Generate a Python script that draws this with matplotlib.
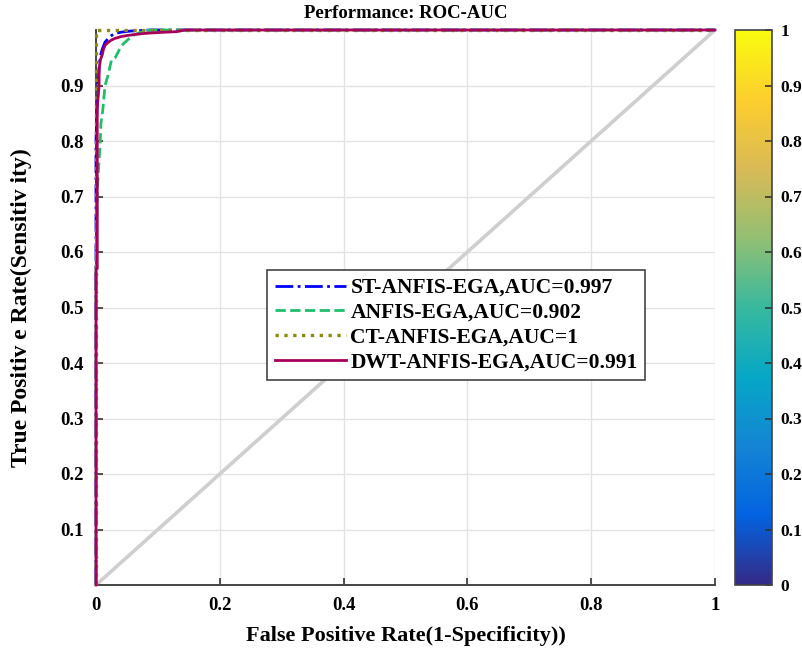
import numpy as np
import matplotlib
matplotlib.use("Agg")
import matplotlib.pyplot as plt
from matplotlib.colors import LinearSegmentedColormap
from matplotlib.colorbar import ColorbarBase
from matplotlib.colors import Normalize

# ---------------- data ----------------
labels = ["ST-ANFIS-EGA,AUC=0.997", "ANFIS-EGA,AUC=0.902",
          "CT-ANFIS-EGA,AUC=1", "DWT-ANFIS-EGA,AUC=0.991"]

st_fpr = [0, 0, 0.003, 0.005, 0.0065, 0.010, 0.0145, 0.020, 0.025, 0.031, 0.040, 0.055, 0.070, 0.090, 1.0]
st_tpr = [0, 0.80, 0.90, 0.93, 0.951, 0.965, 0.978, 0.985, 0.990, 0.994, 0.996, 0.998, 0.999, 1.0, 1.0]

anfis_fpr = [0, 0, 0.002, 0.004, 0.0065, 0.008, 0.011, 0.0145, 0.017, 0.0195, 0.025, 0.031,
             0.038, 0.044, 0.052, 0.060, 0.070, 0.085, 1.0]
anfis_tpr = [0, 0.56, 0.706, 0.748, 0.79, 0.832, 0.856, 0.90, 0.909, 0.919, 0.946, 0.950,
             0.965, 0.975, 0.983, 0.990, 0.995, 1.0, 1.0]

ct_fpr = [0, 0, 1.0]
ct_tpr = [0, 1.0, 1.0]

dwt_fpr = [0, 0, 0.002, 0.002, 0.005, 0.005, 0.007, 0.010, 0.012, 0.015, 0.020, 0.025, 0.031,
           0.040, 0.050, 0.063, 0.080, 0.095, 0.111, 0.130, 0.144, 1.0]
dwt_tpr = [0, 0.57, 0.57, 0.86, 0.90, 0.93, 0.946, 0.955, 0.965, 0.973, 0.978, 0.982, 0.985,
           0.988, 0.990, 0.992, 0.994, 0.995, 0.996, 0.997, 1.0, 1.0]

diag = [0, 1]
x_ticks = [0, 0.2, 0.4, 0.6, 0.8, 1]
y_ticks = [0.1, 0.2, 0.3, 0.4, 0.5, 0.6, 0.7, 0.8, 0.9]
cb_ticks = [0, 0.1, 0.2, 0.3, 0.4, 0.5, 0.6, 0.7, 0.8, 0.9, 1]
parula_colors = ['#352a87', '#0363e1', '#1485d4', '#06a7c6', '#38b99e',
                 '#92bf73', '#d9ba56', '#fcce2e', '#f9fb0e']

# ---------------- style ----------------
plt.rcParams['font.family'] = ['Liberation Serif', 'DejaVu Serif']
plt.rcParams['font.weight'] = 'bold'
FS_TICK = 13.5
FS_LAB = 16
FS_LEG = 15.5

fig = plt.figure(figsize=(8.03, 6.5), dpi=100)
ax = fig.add_axes([96/803, 65/650, 619/803, 555/650])
cax = fig.add_axes([735/803, 65/650, 37/803, 555/650])

# grid
ax.set_axisbelow(True)
ax.grid(True, color='#e3e3e3', lw=1.0)

ax.plot(diag, diag, color='#cfcfcf', lw=2.6, zorder=2)

ax.plot(st_fpr, st_tpr, color='#0000ff', ls='-.', lw=2.0, label=labels[0], zorder=3, clip_on=False)
ax.plot(anfis_fpr, anfis_tpr, color='#1fbf6a', ls='--', lw=2.0, label=labels[1], zorder=3, clip_on=False)
ax.plot(ct_fpr, ct_tpr, color='#8c8c14', ls=':', lw=2.4, label=labels[2], zorder=4, clip_on=False)
ax.plot(dwt_fpr, dwt_tpr, color='#a8005a', ls='-', lw=2.0, label=labels[3], zorder=5, clip_on=False)

ax.set_xlim(0, 1)
ax.set_ylim(0, 1)
ax.set_xticks(x_ticks)
ax.set_xticklabels(['0', '0.2', '0.4', '0.6', '0.8', '1'])
ax.set_yticks(y_ticks)
ax.set_yticklabels([f'{v:g}' for v in y_ticks])
ax.tick_params(direction='in', length=5, width=1.2, color='#333333',
               labelsize=FS_TICK, pad=9)
for lab in ax.get_xticklabels() + ax.get_yticklabels():
    lab.set_fontweight('bold')
for s in ['top', 'right']:
    ax.spines[s].set_visible(False)
for s in ['left', 'bottom']:
    ax.spines[s].set_color('#444444')
    ax.spines[s].set_linewidth(1.4)

ax.set_xlabel('False Positive Rate(1-Specificity))', fontsize=FS_LAB, fontweight='bold', labelpad=8)
ax.set_ylabel('True Positiv e Rate(Sensitiv ity)', fontsize=17, fontweight='bold', labelpad=20)
ax.set_title('Performance: ROC-AUC', fontsize=FS_TICK, fontweight='bold', pad=9)

leg = ax.legend(loc='center left', bbox_to_anchor=(0.277, 0.468),
                frameon=True, fancybox=False, edgecolor='#444444', framealpha=1,
                handlelength=3.3, handletextpad=0.2, borderpad=0.35, labelspacing=0.22,
                borderaxespad=0, prop={'weight': 'bold', 'size': FS_LEG})
leg.get_frame().set_linewidth(1.2)

# colorbar
cmap = LinearSegmentedColormap.from_list('parula_approx', parula_colors, N=256)
cb = ColorbarBase(cax, cmap=cmap, norm=Normalize(0, 1), orientation='vertical', ticks=cb_ticks)
cb.set_ticklabels([f'{v:g}' for v in cb_ticks])
cb.outline.set_edgecolor('#444444')
cb.outline.set_linewidth(1.2)
cax.tick_params(direction='in', length=5, width=1.2, color='#333333', labelsize=FS_TICK - 1, pad=6)
for lab in cax.get_yticklabels():
    lab.set_fontweight('bold')

fig.savefig('out.png', dpi=100)
